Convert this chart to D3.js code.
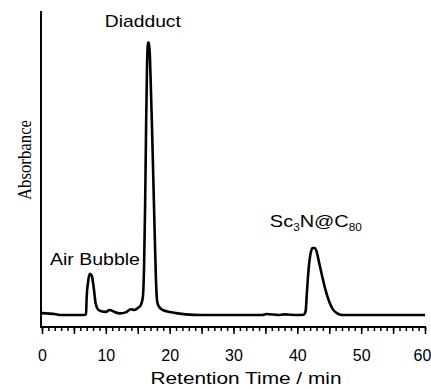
<!DOCTYPE html>
<html>
<head>
<meta charset="utf-8">
<script src="https://cdn.jsdelivr.net/npm/d3@7"></script>
<style>
  html, body { margin: 0; padding: 0; background: #fff; }
  svg { display: block; }
  text { fill: #000; }
</style>
</head>
<body>
<svg id="chart" width="431" height="389"></svg>
<script>
// ---- Data ----
const retentionTime = [
  0, 2, 3, 6.5, 6.9, 7.0, 7.2, 7.5, 7.8, 8.1, 8.4, 8.8, 9.3, 10.0, 10.6, 11.3, 12.2, 13.2, 13.9, 14.5, 15.0,
  15.5, 15.8, 16.0, 16.15, 16.3, 16.45, 16.6, 16.75, 16.9, 17.05, 17.25, 17.45, 17.65, 17.85, 18.05, 18.3,
  18.8, 19.5, 21, 22.5, 25, 30, 34.5, 35.2, 37, 38, 40, 41.0, 41.3, 41.5, 41.8, 42.1, 42.4, 42.7, 43.0,
  43.4, 43.9, 44.4, 45.0, 45.6, 46.2, 47, 50, 55, 60
];
const absorbance = [
  0.044, 0.041, 0.038, 0.038, 0.040, 0.095, 0.140, 0.168, 0.162, 0.125, 0.075, 0.055, 0.050, 0.048, 0.054,
  0.048, 0.043, 0.047, 0.056, 0.054, 0.060,
  0.070, 0.095, 0.200, 0.380, 0.620, 0.820, 0.900, 0.900, 0.860, 0.760, 0.620, 0.460, 0.300, 0.150, 0.080,
  0.065, 0.055, 0.050, 0.044, 0.040, 0.038, 0.038, 0.038, 0.041, 0.038, 0.040, 0.038, 0.039, 0.050, 0.110,
  0.190, 0.235, 0.250, 0.250, 0.240, 0.205, 0.160, 0.118, 0.080, 0.055, 0.044, 0.038, 0.038, 0.038, 0.038
];
const xTicksMinor = d3.range(0, 61, 1);
const xTicksMajor = d3.range(0, 61, 5);
const xTickLabels = ["0", "10", "20", "30", "40", "50", "60"];
const peakLabels = ["Diadduct", "Air Bubble", "Sc3N@C80"];
const peakLabelTime = [15.8, 8.3, 42.9];
const peakLabelAbs = [0.949, 0.196, 0.316];
const xTitle = "Retention Time / min";
const yTitle = "Absorbance";

// ---- Layout ----
const svg = d3.select("#chart");
const mLeft = 42, mRight = 425, mTop = 11, mBottom = 327;

const x = d3.scaleLinear().domain([0, 60]).range([mLeft, mRight]);
const y = d3.scaleLinear().domain([0, 1]).range([mBottom, mTop]);

// trace
const pts = retentionTime.map((t, i) => [t, absorbance[i]]);
const line = d3.line().x(d => x(d[0])).y(d => y(d[1])).curve(d3.curveMonotoneX);
svg.append("path")
  .attr("d", line(pts))
  .attr("fill", "none")
  .attr("stroke", "#000")
  .attr("stroke-width", 2.6)
  .attr("stroke-linejoin", "round");

// y axis line (no ticks)
svg.append("line")
  .attr("x1", mLeft - 1).attr("x2", mLeft - 1)
  .attr("y1", mTop).attr("y2", mBottom + 1)
  .attr("stroke", "#000").attr("stroke-width", 2);

// x axis: minor ticks
const gMinor = svg.append("g").attr("transform", `translate(0,${mBottom})`)
  .call(d3.axisBottom(x).tickValues(xTicksMinor).tickSize(4).tickFormat("").tickSizeOuter(0));
gMinor.select(".domain").attr("stroke", "#000").attr("stroke-width", 2)
  .attr("d", `M${mLeft - 2},0H${mRight + 1}`);
gMinor.selectAll(".tick line").attr("stroke", "#000").attr("stroke-width", 1.5);

// x axis: major ticks
const gMajor = svg.append("g").attr("transform", `translate(0,${mBottom})`)
  .call(d3.axisBottom(x).tickValues(xTicksMajor).tickSize(7)
    .tickFormat(d => (d % 10 === 0 ? xTickLabels[d / 10] : "")).tickSizeOuter(0));
gMajor.select(".domain").remove();
gMajor.selectAll(".tick line").attr("stroke", "#000").attr("stroke-width", 1.5);
gMajor.selectAll(".tick text")
  .attr("y", 34).attr("dy", 0)
  .attr("dx", d => (d === 60 ? -3 : 0))
  .style("font-family", "'Liberation Sans', Arial, sans-serif")
  .style("font-size", "16px");

// axis titles
svg.append("text")
  .attr("x", 246).attr("y", 384)
  .attr("text-anchor", "middle")
  .attr("textLength", 191).attr("lengthAdjust", "spacingAndGlyphs")
  .style("font-family", "'Liberation Sans', Arial, sans-serif")
  .style("font-size", "17px")
  .text(xTitle);

svg.append("text")
  .attr("transform", "translate(31,160) rotate(-90)")
  .attr("text-anchor", "middle")
  .attr("textLength", 80).attr("lengthAdjust", "spacingAndGlyphs")
  .style("font-family", "'Liberation Serif', 'Times New Roman', serif")
  .style("font-size", "18px")
  .text(yTitle);

// peak annotations
const font = "'Liberation Sans', Arial, sans-serif";
svg.append("text")
  .attr("x", x(peakLabelTime[0])).attr("y", y(peakLabelAbs[0]))
  .attr("text-anchor", "middle")
  .attr("textLength", 76).attr("lengthAdjust", "spacingAndGlyphs")
  .style("font-family", font).style("font-size", "17px")
  .text(peakLabels[0]);
svg.append("text")
  .attr("x", x(peakLabelTime[1])).attr("y", y(peakLabelAbs[1]))
  .attr("text-anchor", "middle")
  .attr("textLength", 90).attr("lengthAdjust", "spacingAndGlyphs")
  .style("font-family", font).style("font-size", "17px")
  .text(peakLabels[1]);
const sc = svg.append("text")
  .attr("x", x(peakLabelTime[2])).attr("y", y(peakLabelAbs[2]))
  .attr("text-anchor", "middle")
  .attr("textLength", 92).attr("lengthAdjust", "spacingAndGlyphs")
  .style("font-family", font).style("font-size", "17px");
sc.append("tspan").text("Sc");
sc.append("tspan").attr("dy", 4).style("font-size", "10px").text("3");
sc.append("tspan").attr("dy", -4).text("N@C");
sc.append("tspan").attr("dy", 4).style("font-size", "10px").text("80");
</script>
</body>
</html>
